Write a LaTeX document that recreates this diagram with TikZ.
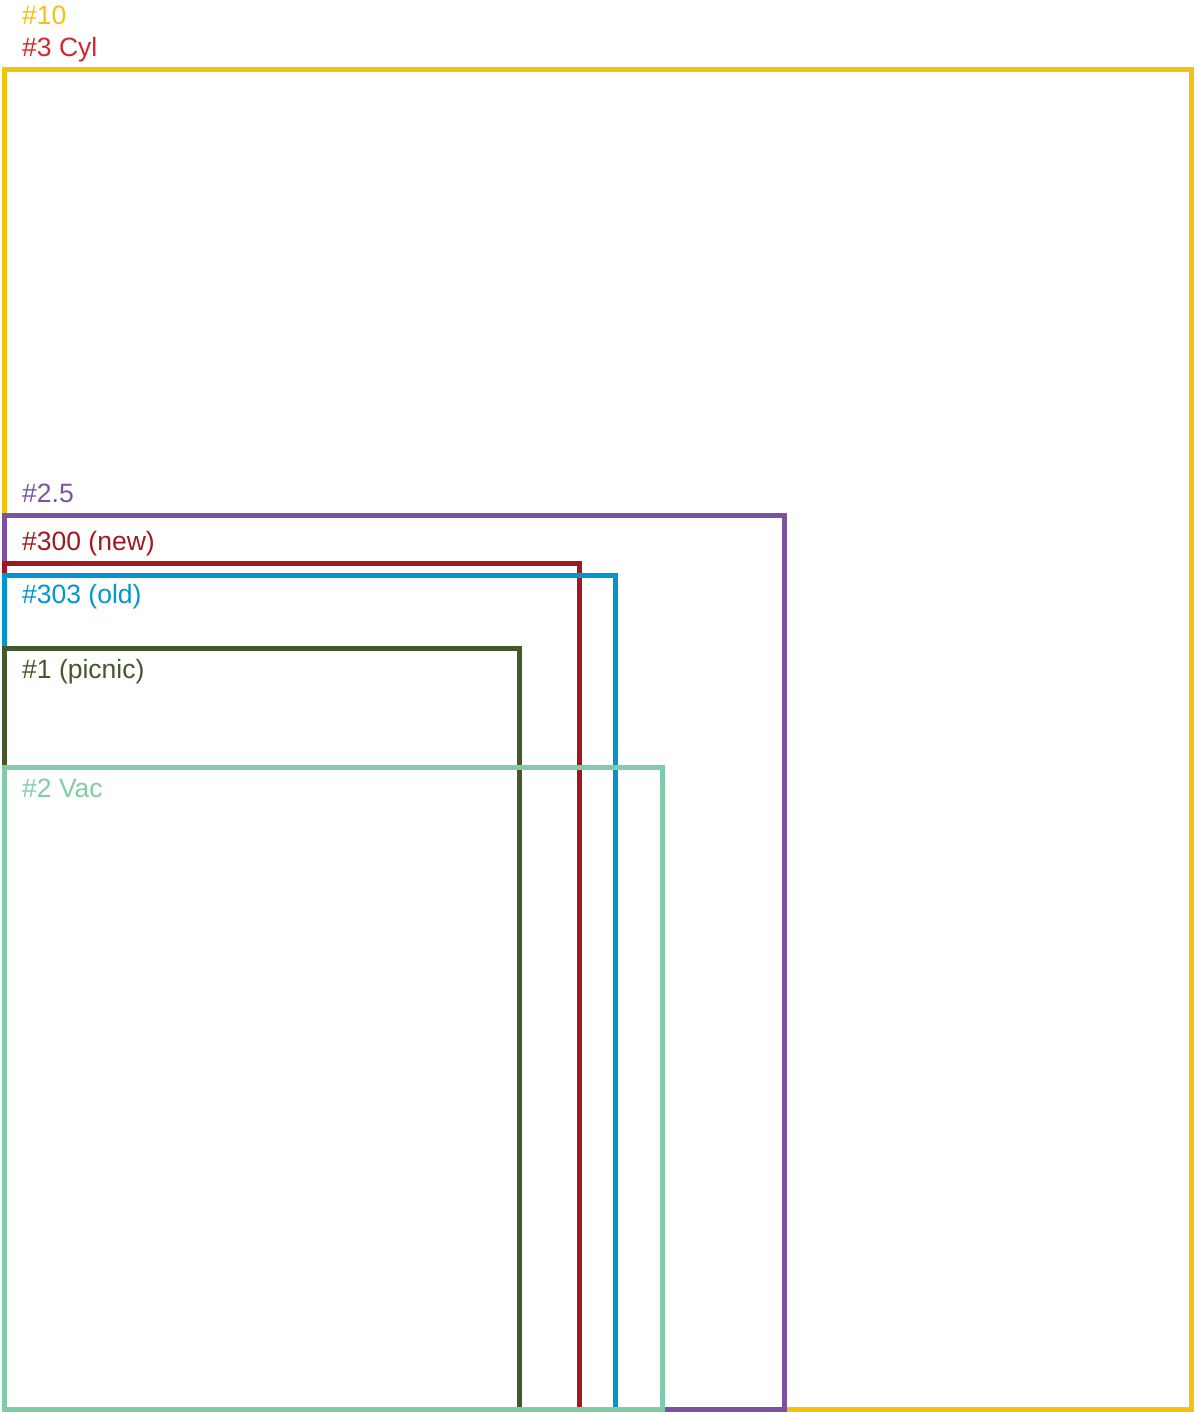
\documentclass[tikz,border=0pt]{standalone}
\usepackage{fontspec}
\setmainfont{Liberation Sans}
\definecolor{cyellow}{HTML}{F4C20D}
\definecolor{ccyl}{HTML}{D3262E}
\definecolor{cpurple}{HTML}{7B52A0}
\definecolor{cred}{HTML}{9E1A1E}
\definecolor{cblue}{HTML}{0095CF}
\definecolor{cdgreen}{HTML}{45582C}
\definecolor{clgreen}{HTML}{82CBA9}
\tikzset{
  box/.style={line width=5pt},
  lbl/.style={anchor=base west, inner sep=0pt, font=\fontsize{26.5}{30}\selectfont}
}
\begin{document}
\begin{tikzpicture}[x=1pt,y=-1pt]
\useasboundingbox (0,0) rectangle (1194,1412);
\draw[box, cyellow] (4,70) rectangle (1191,1409);
\draw[box, cpurple] (4,515) rectangle (784,1409);
\draw[box, cred] (4,563) rectangle (579,1409);
\draw[box, cblue] (4,575) rectangle (615,1409);
\draw[box, cdgreen] (4,648) rectangle (519,1409);
\draw[box, clgreen] (4,767) rectangle (662,1409);
\node[lbl, text=cyellow] (l10) at (22,25) {\#10};
\node[lbl, text=ccyl] (l3) at (22,57) {\#3 Cyl};
\node[lbl, text=cpurple] (l25) at (22,502) {\#2.5};
\node[lbl, text=cred] (l300) at (22,550) {\#300 (new)};
\node[lbl, text=cblue] (l303) at (22,603) {\#303 (old)};
\node[lbl, text=cdgreen] (l1) at (22,678) {\#1 (picnic)};
\node[lbl, text=clgreen] (l2) at (22,797) {\#2 Vac};
\end{tikzpicture}
\end{document}
